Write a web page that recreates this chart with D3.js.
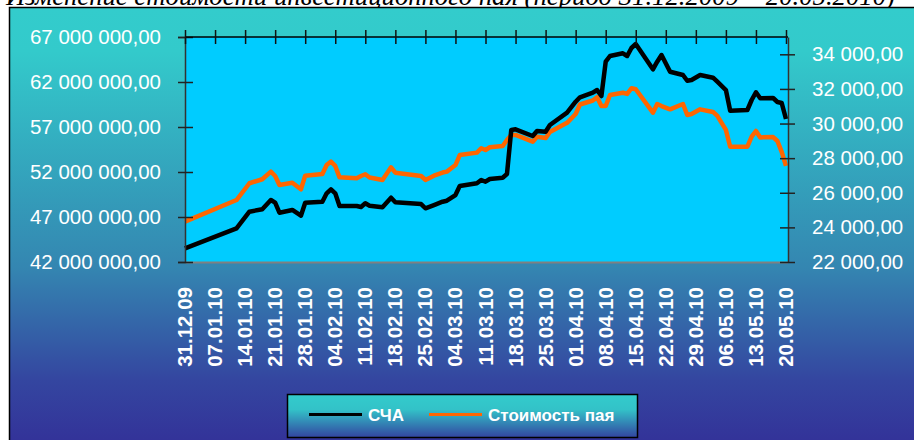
<!DOCTYPE html>
<html lang="ru">
<head>
  <meta charset="UTF-8">
  <title>Изменение стоимости инвестиционного пая</title>
  <script src="https://d3js.org/d3.v7.min.js"></script>
  <style>
    body { margin: 0; background: #fff; }
    svg { display: block; }
    .ax text { fill: #fff; font-family: "Liberation Sans", Arial, sans-serif; }
  </style>
</head>
<body>
  <svg width="914" height="440"></svg>
  <script>
    // даты (торговые дни)
    const dates = [
      "31.12.2009", "12.01.2010", "15.01.2010", "18.01.2010", "20.01.2010", "21.01.2010", "22.01.2010",
      "25.01.2010", "27.01.2010", "28.01.2010", "01.02.2010", "02.02.2010", "03.02.2010", "04.02.2010",
      "05.02.2010", "09.02.2010", "10.02.2010", "11.02.2010", "12.02.2010", "15.02.2010", "17.02.2010",
      "18.02.2010", "24.02.2010", "25.02.2010", "27.02.2010", "01.03.2010", "02.03.2010", "04.03.2010",
      "05.03.2010", "09.03.2010", "10.03.2010", "11.03.2010", "12.03.2010", "15.03.2010", "16.03.2010",
      "17.03.2010", "18.03.2010", "22.03.2010", "23.03.2010", "25.03.2010", "26.03.2010", "30.03.2010",
      "01.04.2010", "02.04.2010", "05.04.2010", "06.04.2010", "07.04.2010", "08.04.2010", "09.04.2010",
      "12.04.2010", "13.04.2010", "14.04.2010", "15.04.2010", "19.04.2010", "20.04.2010", "21.04.2010",
      "23.04.2010", "26.04.2010", "27.04.2010", "28.04.2010", "30.04.2010", "03.05.2010", "04.05.2010",
      "06.05.2010", "07.05.2010", "11.05.2010", "12.05.2010", "13.05.2010", "14.05.2010", "17.05.2010",
      "18.05.2010", "19.05.2010", "20.05.2010"
    ];

    // СЧА, млн руб.
    const nav = [
      43.52, 45.74, 47.59, 47.86, 48.89, 48.59, 47.48, 47.78, 47.14, 48.59, 48.70, 49.63, 50.08, 49.63,
      48.22, 48.22, 48.11, 48.52, 48.26, 48.08, 49.14, 48.63, 48.44, 47.97, 48.33, 48.70, 48.81, 49.44,
      50.44, 50.74, 51.11, 50.92, 51.22, 51.37, 51.78, 56.67, 56.74, 56.00, 56.56, 56.48, 57.22, 58.59,
      59.81, 60.30, 60.81, 61.11, 60.44, 64.26, 64.89, 65.19, 64.89, 65.78, 66.22, 63.41, 64.26, 65.00,
      63.14, 62.78, 62.14, 62.22, 62.78, 62.48, 62.03, 61.11, 58.81, 58.89, 60.00, 60.86, 60.19, 60.22,
      59.78, 59.67, 57.89
    ];

    // стоимость пая, руб.
    const unitPrice = [
      24330, 25580, 26550, 26780, 27220, 26970, 26450, 26580, 26200, 26990, 27080, 27600, 27800, 27550,
      26890, 26840, 26970, 27070, 26880, 26740, 27470, 27160, 26970, 26740, 26990, 27170, 27220, 27600,
      28180, 28320, 28570, 28470, 28630, 28700, 29050, 29340, 29340, 28950, 29240, 29160, 29510, 30040,
      30550, 31100, 31330, 31520, 31010, 31010, 31650, 31780, 31710, 32040, 31980, 30630, 31130, 31010,
      30820, 31130, 30490, 30550, 30820, 30670, 30440, 29630, 28660, 28660, 29240, 29570, 29200, 29220,
      28990, 28360, 27550
    ];

    const leftTicks = [42, 47, 52, 57, 62, 67];
    const rightTicks = [22000, 24000, 26000, 28000, 30000, 32000, 34000];
    const tickDates = [
      "31.12.2009", "07.01.2010", "14.01.2010", "21.01.2010", "28.01.2010", "04.02.2010", "11.02.2010",
      "18.02.2010", "25.02.2010", "04.03.2010", "11.03.2010", "18.03.2010", "25.03.2010", "01.04.2010",
      "08.04.2010", "15.04.2010", "22.04.2010", "29.04.2010", "06.05.2010", "13.05.2010", "20.05.2010"
    ];
    const seriesNames = ["СЧА", "Стоимость пая"];

    const parse = d3.timeParse("%d.%m.%Y");
    const rows = dates.map((d, i) => ({ date: parse(d), nav: nav[i], price: unitPrice[i] }));

    const svg = d3.select("svg");
    const plot = { left: 185, right: 788, top: 37, bottom: 262 };

    const x = d3.scaleTime()
      .domain([parse("31.12.2009"), parse("20.05.2010")])
      .range([185, 786]);
    const yL = d3.scaleLinear().domain([42, 67]).range([plot.bottom, plot.top]);
    const yR = d3.scaleLinear().domain([22000, 35000]).range([plot.bottom, plot.top]);

    const ru = d3.formatLocale({ decimal: ",", thousands: " ", grouping: [3], currency: ["", ""] });
    const fmt = ru.format(",.2f");

    // фон
    const defs = svg.append("defs");
    const bg = defs.append("linearGradient").attr("id", "bg")
      .attr("gradientUnits", "userSpaceOnUse")
      .attr("x1", 0).attr("y1", 8).attr("x2", 0).attr("y2", 440);
    bg.append("stop").attr("offset", 0).attr("stop-color", "#33cccc");
    bg.append("stop").attr("offset", 0.1).attr("stop-color", "#33cacb");
    bg.append("stop").attr("offset", 0.6).attr("stop-color", "#3486b1");
    bg.append("stop").attr("offset", 0.86).attr("stop-color", "#3446a0");
    bg.append("stop").attr("offset", 1).attr("stop-color", "#333399");

    const lg = defs.append("linearGradient").attr("id", "lg")
      .attr("x1", 0).attr("y1", 0).attr("x2", 0).attr("y2", 1);
    lg.append("stop").attr("offset", 0).attr("stop-color", "#33cccc");
    lg.append("stop").attr("offset", 0.35).attr("stop-color", "#33c2c8");
    lg.append("stop").attr("offset", 1).attr("stop-color", "#3344a0");

    // заголовок (в оригинале почти целиком обрезан верхним краем)
    svg.append("text")
      .attr("x", 6).attr("y", 5)
      .attr("font-family", "'Liberation Serif', 'Times New Roman', serif")
      .attr("font-style", "italic")
      .attr("font-size", 27)
      .attr("textLength", 889)
      .attr("lengthAdjust", "spacingAndGlyphs")
      .attr("fill", "#000")
      .text("Изменение стоимости инвестиционного пая (период 31.12.2009 – 20.05.2010)");

    svg.append("rect")
      .attr("x", 9.5).attr("y", 7.5).attr("width", 930).attr("height", 450)
      .attr("fill", "url(#bg)").attr("stroke", "#000").attr("stroke-width", 1.5);

    // область построения
    svg.append("rect")
      .attr("x", plot.left).attr("y", plot.top)
      .attr("width", plot.right - plot.left).attr("height", plot.bottom - plot.top)
      .attr("fill", "#00ccff");
    svg.append("line")
      .attr("x1", plot.left).attr("x2", plot.right)
      .attr("y1", plot.bottom + 0.5).attr("y2", plot.bottom + 0.5)
      .attr("stroke", "#808080").attr("stroke-width", 2);

    // линии
    const lineNav = d3.line().x(d => x(d.date)).y(d => yL(d.nav));
    const linePrice = d3.line().x(d => x(d.date)).y(d => yR(d.price));

    svg.append("path").datum(rows)
      .attr("d", linePrice)
      .attr("fill", "none").attr("stroke", "#ff6600")
      .attr("stroke-width", 4.5).attr("stroke-linejoin", "round");
    svg.append("path").datum(rows)
      .attr("d", lineNav)
      .attr("fill", "none").attr("stroke", "#000")
      .attr("stroke-width", 4.5).attr("stroke-linejoin", "round");

    // левая ось
    const axL = svg.append("g").attr("class", "ax")
      .attr("transform", `translate(${plot.left},0)`)
      .call(d3.axisLeft(yL).tickValues(leftTicks).tickFormat(v => fmt(v * 1e6)).tickSize(7).tickPadding(17));
    axL.select(".domain").attr("stroke", "#333").attr("stroke-width", 1.5);
    axL.selectAll(".tick line").attr("x2", 8).attr("x1", -7).attr("stroke", "#222").attr("stroke-width", 1.5);
    axL.selectAll(".tick text").attr("font-size", 20.5);

    // правая ось
    const axR = svg.append("g").attr("class", "ax")
      .attr("transform", `translate(${plot.right},0)`)
      .call(d3.axisRight(yR).tickValues(rightTicks).tickFormat(fmt).tickSize(7).tickPadding(17).tickSizeOuter(0));
    axR.select(".domain").attr("stroke", "#333").attr("stroke-width", 1.5);
    axR.selectAll(".tick line").attr("x1", -8).attr("x2", 7).attr("stroke", "#222").attr("stroke-width", 1.5);
    axR.selectAll(".tick text").attr("font-size", 20.5);

    // ось дат (линия сверху, подписи снизу)
    const axT = svg.append("g").attr("class", "ax")
      .attr("transform", `translate(0,${plot.top})`)
      .call(d3.axisTop(x).tickValues(tickDates.map(parse)).tickFormat("").tickSize(7).tickSizeOuter(0));
    axT.select(".domain").attr("d", `M${plot.left},0H${plot.right}`).attr("stroke", "#000").attr("stroke-width", 1.5);
    axT.selectAll(".tick line").attr("y1", -7).attr("y2", 7).attr("stroke", "#111").attr("stroke-width", 1.5);

    const fmtDate = d3.timeFormat("%d.%m.%y");
    svg.append("g").selectAll("text")
      .data(tickDates.map(parse))
      .join("text")
      .attr("transform", d => `translate(${x(d) + 7},287) rotate(-90)`)
      .attr("text-anchor", "end")
      .attr("fill", "#fff")
      .attr("font-family", "'Liberation Sans', Arial, sans-serif")
      .attr("font-weight", "bold")
      .attr("font-size", 20.5)
      .text(fmtDate);

    // легенда
    const leg = svg.append("g");
    leg.append("rect")
      .attr("x", 287.5).attr("y", 394.5).attr("width", 350).attr("height", 43)
      .attr("fill", "url(#lg)").attr("stroke", "#000").attr("stroke-width", 1.5);
    const legItems = [
      { name: seriesNames[0], color: "#000", x: 309 },
      { name: seriesNames[1], color: "#ff6600", x: 429 }
    ];
    legItems.forEach(it => {
      leg.append("line")
        .attr("x1", it.x).attr("x2", it.x + 53)
        .attr("y1", 414.5).attr("y2", 414.5)
        .attr("stroke", it.color).attr("stroke-width", 3);
      leg.append("text")
        .attr("x", it.x + 59).attr("y", 421)
        .attr("fill", "#fff")
        .attr("font-family", "'Liberation Sans', Arial, sans-serif")
        .attr("font-weight", "bold")
        .attr("font-size", 17)
        .text(it.name);
    });
  </script>
</body>
</html>
